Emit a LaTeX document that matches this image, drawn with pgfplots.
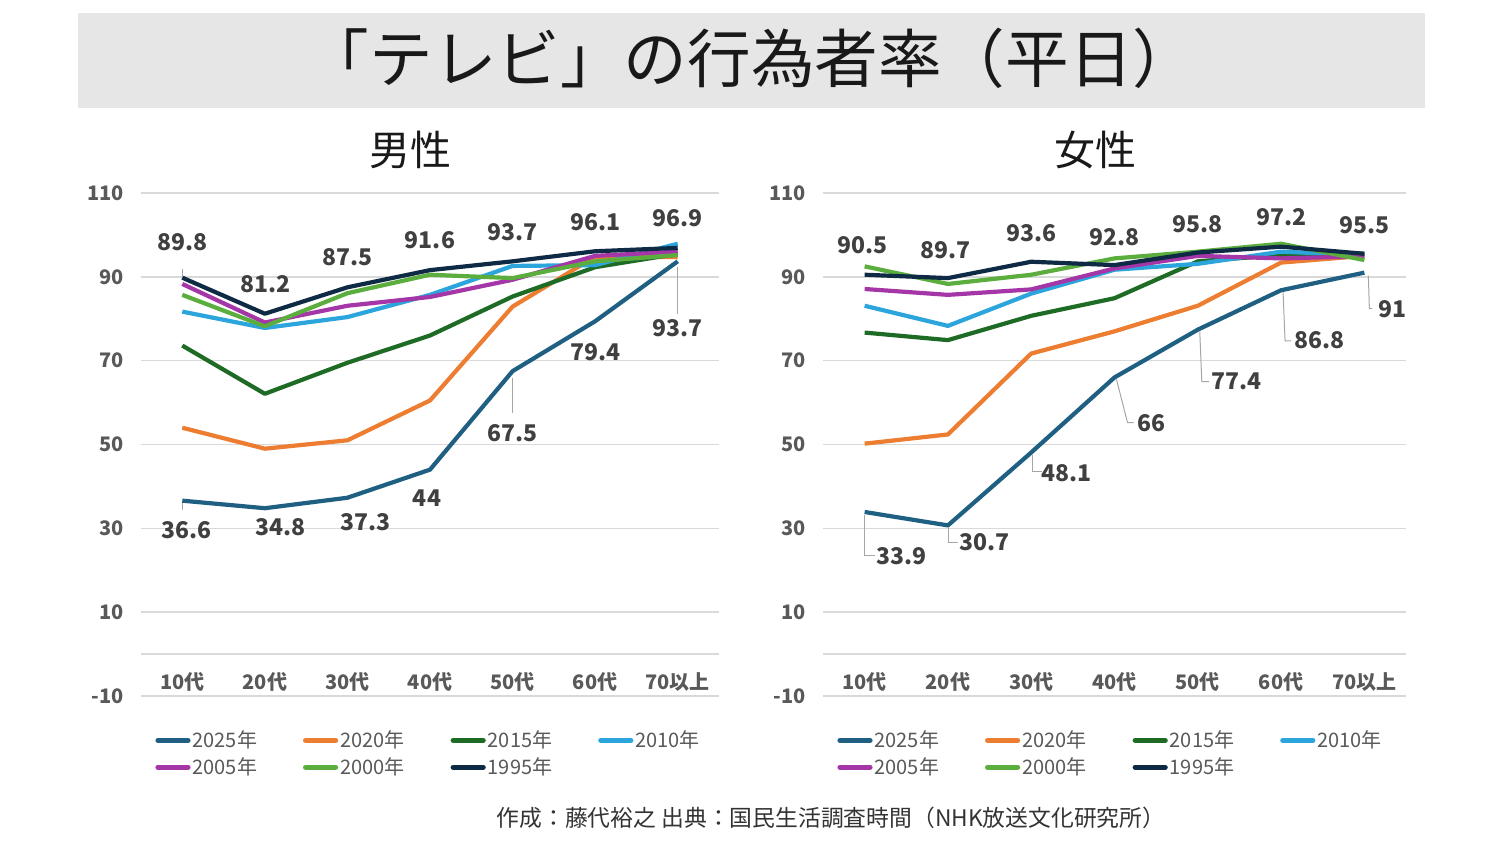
\documentclass[border=0pt]{standalone}
\usepackage{fontspec}
\setmainfont{Noto Sans CJK JP}
\usepackage{pgfplots}
\usepackage{pgfplotstable}
\pgfplotsset{compat=1.18}

\definecolor{c25}{HTML}{1F5F82}
\definecolor{c20}{HTML}{ED7D31}
\definecolor{c15}{HTML}{1E6B26}
\definecolor{c10}{HTML}{2CA5DC}
\definecolor{c05}{HTML}{A436A8}
\definecolor{c00}{HTML}{5BAE3E}
\definecolor{c95}{HTML}{0E2A44}
\definecolor{gridgray}{HTML}{D9D9D9}
\definecolor{tickgray}{HTML}{595959}
\definecolor{labgray}{HTML}{404040}
\definecolor{leadgray}{HTML}{A6A6A6}
\definecolor{bandgray}{HTML}{E7E6E6}

\pgfplotstableread{
x y25 y20 y15 y10 y05 y00 y95
0 36.6 54.0 73.6 81.7 88.3 85.7 89.8
1 34.8 49.0 62.1 77.8 79.1 78.2 81.2
2 37.3 51.0 69.5 80.4 83.1 86.1 87.5
3 44.0 60.5 76.0 85.7 85.2 90.5 91.6
4 67.5 82.9 85.3 92.6 89.3 89.7 93.7
5 79.4 94.8 92.3 92.8 95.0 93.7 96.1
6 93.7 94.7 95.5 97.9 96.0 95.2 96.9
}\male

\pgfplotstableread{
x y25 y20 y15 y10 y05 y00 y95
0 33.9 50.2 76.7 83.1 87.1 92.5 90.5
1 30.7 52.4 74.9 78.3 85.7 88.3 89.7
2 48.1 71.7 80.7 86.0 87.0 90.5 93.6
3 66.0 77.0 84.9 91.7 92.0 94.4 92.8
4 77.4 83.1 93.7 93.1 95.0 96.0 95.8
5 86.8 93.4 95.2 96.0 94.4 97.9 97.2
6 91.0 95.0 95.5 95.2 94.9 94.0 95.5
}\female

\pgfplotstableread{
x y lab dx dy
0 36.6 36.6 2 -14.5
1 34.8 34.8 8 -9.5
2 37.3 37.3 9 -12
3 44.0 44 -1.5 -14
4 67.5 67.5 0 -31
5 79.4 79.4 0 -15.5
6 93.7 93.7 0 -33.5
}\malelabA

\pgfplotstableread{
x y lab dx dy
0 89.8 89.8 0 18
1 81.2 81.2 0.5 15
2 87.5 87.5 0 15
3 91.6 91.6 0 15
4 93.7 93.7 0 14.75
5 96.1 96.1 0 14.5
6 96.9 96.9 0 15
}\malelabB

\pgfplotstableread{
x y lab dx dy
0 33.9 33.9 18.25 -22
1 30.7 30.7 18.2 -8.5
2 48.1 48.1 17.85 -10.5
3 66.0 66 18.5 -23.1
4 77.4 77.4 19.5 -25.85
5 86.8 86.8 19 -25.15
6 91.0 91 14 -18.5
}\femalelabA

\pgfplotstableread{
x y lab dx dy
0 90.5 90.5 -1 15
1 89.7 89.7 -1 13.8
2 93.6 93.6 0 14.5
3 92.8 92.8 0 14
4 95.8 95.8 0 14.3
5 97.2 97.2 0 14.75
6 95.5 95.5 0 14.5
}\femalelabB

\tikzset{leader/.style={draw=leadgray, line width=0.5pt}}

\pgfplotsset{
  tvaxis/.style={
    scale only axis,
    height=251.5pt,
    xmin=-0.5, xmax=6.5,
    ymin=-10, ymax=110,
    ytick={-10,10,...,110},
    xtick={0,...,6},
    xticklabels={10代,20代,30代,40代,50代,60代,70以上},
    extra y ticks={0},
    extra y tick labels={},
    extra y tick style={grid=major, major tick length=0pt},
    ymajorgrids,
    grid style={color=gridgray, line width=0.7pt},
    axis line style={draw=none},
    major tick length=0pt,
    clip=false,
    /pgf/number format/assume math mode=true,
    yticklabel style={font=\bfseries\fontsize{10}{12}\selectfont, text=tickgray, anchor=east, xshift=-5pt},
    xticklabel style={font=\bfseries\fontsize{10}{12}\selectfont, text=tickgray, anchor=base, yshift=3.5pt},
    legend columns=4,
    legend cell align=left,
    legend style={at={(0,0)}, anchor=north west, xshift=4pt, yshift=-14pt, draw=none, fill=none,
      font=\fontsize{10}{12}\selectfont, text=tickgray,
      nodes={inner xsep=1pt, inner ysep=1pt},
      /tikz/every even column/.append style={column sep=22pt},
      row sep=1.5pt},
    legend image code/.code={\draw[##1, line width=2.6pt, line cap=round] (0pt,0pt) -- (15pt,0pt);},
    every axis plot/.append style={line width=2.1pt, line join=round},
  },
  lab/.style={draw=none, forget plot, nodes near coords, point meta=explicit symbolic,
    visualization depends on={\thisrow{dx}\as\lbdx},
    visualization depends on={\thisrow{dy}\as\lbdy},
    every node near coord/.style={anchor=center, xshift=\lbdx pt, yshift=\lbdy pt,
      font=\bfseries\fontsize{11.5}{13}\selectfont, text=labgray, inner sep=0pt}},
}

\begin{document}
\begin{tikzpicture}
\useasboundingbox (0,0) rectangle (750pt,421.5pt);
\fill[bandgray] (39pt,367.5pt) rectangle (712.5pt,415pt);
\node[font=\fontsize{31.8}{36}\selectfont, text=black!90] at (375.5pt,392.5pt) {「テレビ」の行為者率（平日）};
\node[font=\fontsize{20.5}{24}\selectfont, text=black!90] at (205pt,346.5pt) {男性};
\node[font=\fontsize{20.5}{24}\selectfont, text=black!90] at (547.5pt,346.5pt) {女性};
\node[font=\fontsize{11.4}{13}\selectfont, text=black!80] at (415.5pt,12.5pt) {作成：藤代裕之 出典：国民生活調査時間（NHK放送文化研究所）};

\begin{axis}[tvaxis, width=289pt, at={(70.5pt,73.5pt)}, anchor=south west]
\addplot[c25] table[x=x,y=y25] {\male}; \addlegendentry{2025年}
\addplot[c20] table[x=x,y=y20] {\male}; \addlegendentry{2020年}
\addplot[c15] table[x=x,y=y15] {\male}; \addlegendentry{2015年}
\addplot[c10] table[x=x,y=y10] {\male}; \addlegendentry{2010年}
\addplot[c05] table[x=x,y=y05] {\male}; \addlegendentry{2005年}
\addplot[c00] table[x=x,y=y00] {\male}; \addlegendentry{2000年}
\addplot[c95] table[x=x,y=y95] {\male}; \addlegendentry{1995年}
\addplot[lab] table[x=x,y=y,meta=lab] {\malelabA};
\addplot[lab] table[x=x,y=y,meta=lab] {\malelabB};
\draw[leader] ([yshift=-1pt]axis cs:0,36.6) -- ([yshift=-4.5pt]axis cs:0,36.6);
\draw[leader] ([yshift=0.5pt]axis cs:0,89.8) -- ([yshift=4.5pt]axis cs:0,89.8);
\draw[leader] ([yshift=-3.25pt]axis cs:4,67.5) -- ([yshift=-20.75pt]axis cs:4,67.5);
\draw[leader] ([yshift=-2.75pt]axis cs:6,93.7) -- ([yshift=-26.25pt]axis cs:6,93.7);
\end{axis}

\begin{axis}[tvaxis, width=291.5pt, at={(411.5pt,73.5pt)}, anchor=south west]
\addplot[c25] table[x=x,y=y25] {\female}; \addlegendentry{2025年}
\addplot[c20] table[x=x,y=y20] {\female}; \addlegendentry{2020年}
\addplot[c15] table[x=x,y=y15] {\female}; \addlegendentry{2015年}
\addplot[c10] table[x=x,y=y10] {\female}; \addlegendentry{2010年}
\addplot[c05] table[x=x,y=y05] {\female}; \addlegendentry{2005年}
\addplot[c00] table[x=x,y=y00] {\female}; \addlegendentry{2000年}
\addplot[c95] table[x=x,y=y95] {\female}; \addlegendentry{1995年}
\addplot[lab] table[x=x,y=y,meta=lab] {\femalelabA};
\addplot[lab] table[x=x,y=y,meta=lab] {\femalelabB};
\draw[leader] ([yshift=-1.5pt]axis cs:0,33.9) -- ([yshift=-21.7pt]axis cs:0,33.9) -- ([xshift=5pt,yshift=-21.7pt]axis cs:0,33.9);
\draw[leader] ([xshift=0.5pt,yshift=-1pt]axis cs:1,30.7) -- ([xshift=0.5pt,yshift=-8.5pt]axis cs:1,30.7) -- ([xshift=5.25pt,yshift=-8.5pt]axis cs:1,30.7);
\draw[leader] ([xshift=0.8pt,yshift=-1.5pt]axis cs:2,48.1) -- ([xshift=0.8pt,yshift=-9.5pt]axis cs:2,48.1) -- ([xshift=5.5pt,yshift=-9.5pt]axis cs:2,48.1);
\draw[leader] ([xshift=1pt,yshift=-1pt]axis cs:3,66) -- ([xshift=6.5pt,yshift=-22.6pt]axis cs:3,66) -- ([xshift=9.5pt,yshift=-22.6pt]axis cs:3,66);
\draw[leader] ([xshift=1pt,yshift=-1pt]axis cs:4,77.4) -- ([xshift=2pt,yshift=-26pt]axis cs:4,77.4) -- ([xshift=5.5pt,yshift=-26pt]axis cs:4,77.4);
\draw[leader] ([xshift=1pt,yshift=-1pt]axis cs:5,86.8) -- ([xshift=2pt,yshift=-25.3pt]axis cs:5,86.8) -- ([xshift=5pt,yshift=-25.3pt]axis cs:5,86.8);
\draw[leader] ([xshift=2pt,yshift=-1.5pt]axis cs:6,91) -- ([xshift=2.5pt,yshift=-18pt]axis cs:6,91) -- ([xshift=4pt,yshift=-18pt]axis cs:6,91);
\end{axis}
\end{tikzpicture}
\end{document}
